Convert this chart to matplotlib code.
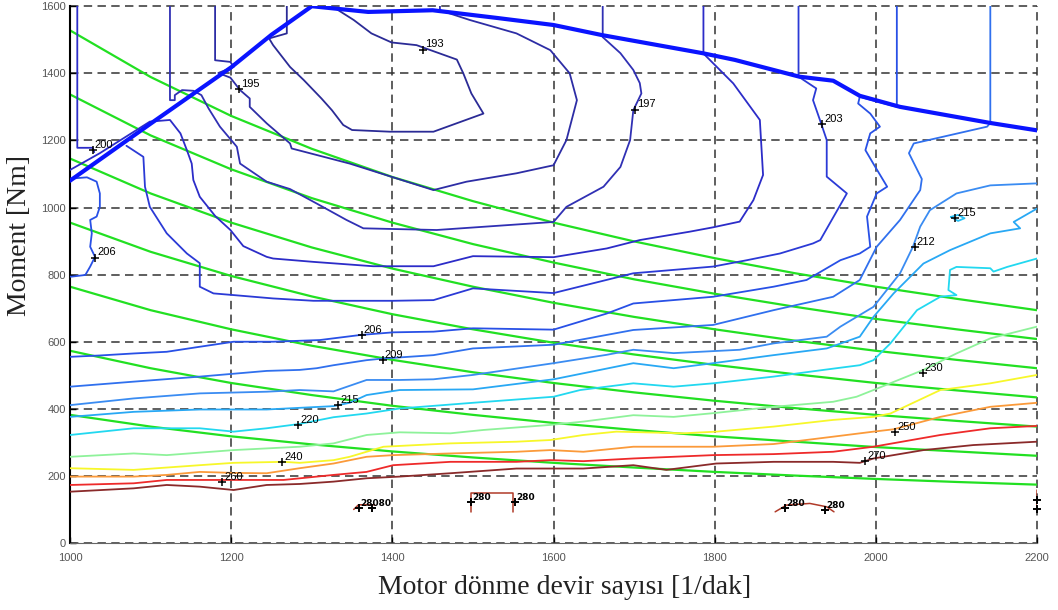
import matplotlib.pyplot as plt

# Engine speed [1/min] vs. torque [Nm]; each list is one iso-consumption line [g/kWh]
full_load = [(1000, 1080), (1100, 1250), (1200, 1418), (1250, 1515), (1300, 1600), (1370, 1583),
             (1450, 1588), (1530, 1565), (1600, 1544), (1660, 1514), (1785, 1460), (1825, 1440),
             (1905, 1390), (1947, 1378), (1980, 1333), (2030, 1300), (2142, 1252), (2200, 1230)]

c193 = [(1269, 1600), (1269, 1519), (1247, 1504), (1252, 1484), (1273, 1419), (1290, 1380),
        (1312, 1325), (1325, 1290), (1339, 1246), (1350, 1231), (1397, 1226), (1451, 1226),
        (1513, 1280), (1498, 1340), (1488, 1400), (1480, 1441), (1430, 1484), (1399, 1492),
        (1374, 1519), (1352, 1559), (1329, 1594)]

c195 = [(1180, 1600), (1180, 1439), (1199, 1434), (1203, 1419), (1184, 1401), (1199, 1387),
        (1211, 1350), (1223, 1325), (1223, 1300), (1244, 1251), (1273, 1191), (1275, 1176),
        (1347, 1131), (1451, 1052), (1492, 1077), (1554, 1102), (1600, 1126), (1616, 1201),
        (1629, 1320), (1620, 1400), (1596, 1469), (1554, 1519), (1496, 1559), (1459, 1588),
        (1459, 1600)]

c197 = [(1124, 1600), (1124, 1320), (1130, 1320), (1130, 1335), (1139, 1350), (1153, 1348),
        (1163, 1335), (1172, 1295), (1186, 1241), (1207, 1181), (1211, 1131), (1244, 1077),
        (1273, 1055), (1306, 1012), (1343, 963), (1364, 938), (1455, 933), (1600, 957),
        (1616, 1002), (1662, 1062), (1683, 1121), (1695, 1201), (1699, 1290), (1709, 1340),
        (1707, 1371), (1699, 1410), (1683, 1460), (1661, 1508), (1661, 1600)]

c200_left = [(1009, 1600), (1009, 1178), (1028, 1178), (1030, 1165)]

c200 = [(1000, 1112), (1037, 1162), (1099, 1256), (1124, 1261), (1137, 1221), (1145, 1171),
        (1151, 1131), (1153, 1082), (1161, 1032), (1180, 975), (1199, 933), (1215, 885),
        (1244, 853), (1252, 848), (1302, 838), (1376, 825), (1451, 825), (1500, 855),
        (1600, 852), (1666, 878), (1707, 903), (1769, 928), (1798, 941), (1831, 958),
        (1848, 1022), (1860, 1097), (1856, 1261), (1823, 1370), (1786, 1459), (1786, 1600)]

c203 = [(1070, 1184), (1091, 1151), (1093, 1062), (1099, 1002), (1120, 923), (1145, 863),
        (1161, 834), (1161, 764), (1178, 744), (1203, 739), (1252, 729), (1302, 722),
        (1401, 722), (1451, 724), (1500, 759), (1600, 745), (1699, 804), (1798, 824),
        (1840, 843), (1881, 863), (1922, 893), (1931, 903), (1964, 1042), (1939, 1092),
        (1939, 1132), (1939, 1201), (1932, 1251), (1922, 1320), (1926, 1355), (1904, 1390),
        (1904, 1600)]

c206_left = [(1000, 1086), (1021, 1090), (1033, 1077), (1037, 1042), (1037, 1002), (1033, 973),
             (1025, 963), (1027, 923), (1025, 883), (1031, 853), (1025, 824), (1019, 799),
             (1002, 794), (1000, 794)]

c206 = [(1000, 555), (1037, 559), (1079, 565), (1120, 570), (1161, 585), (1203, 600),
        (1252, 600), (1310, 605), (1360, 620), (1401, 628), (1451, 630), (1500, 640),
        (1600, 636), (1666, 684), (1699, 714), (1798, 734), (1873, 764), (1914, 784),
        (1956, 843), (1980, 863), (1993, 883), (1989, 973), (2001, 1042), (2014, 1062),
        (1997, 1130), (1987, 1171), (1993, 1221), (2005, 1241), (1993, 1280), (1978, 1310),
        (1980, 1330), (2026, 1300), (2026, 1600)]

c209 = [(1000, 466), (1079, 481), (1161, 496), (1244, 513), (1285, 516), (1306, 521),
        (1327, 530), (1368, 545), (1389, 550), (1451, 560), (1500, 580), (1600, 591),
        (1699, 635), (1798, 650), (1873, 694), (1947, 734), (1980, 784), (2001, 883),
        (2030, 963), (2055, 1052), (2057, 1085), (2041, 1162), (2047, 1191), (2138, 1241),
        (2142, 1252), (2142, 1600)]

c212 = [(1000, 411), (1079, 431), (1161, 446), (1244, 451), (1285, 456), (1327, 452),
        (1368, 486), (1409, 486), (1451, 488), (1500, 501), (1600, 536), (1666, 561),
        (1699, 576), (1749, 566), (1831, 576), (1873, 595), (1939, 615), (1956, 645),
        (1997, 704), (2030, 804), (2046, 883), (2055, 943), (2067, 992), (2100, 1042),
        (2142, 1066), (2200, 1072)]

c215 = [(1000, 376), (1079, 391), (1161, 398), (1244, 398), (1327, 408), (1347, 418),
        (1368, 441), (1409, 456), (1500, 458), (1600, 488), (1699, 536), (1749, 521),
        (1798, 536), (1873, 560), (1939, 580), (1980, 615), (1997, 674), (2022, 744),
        (2059, 833), (2092, 873), (2142, 923), (2179, 938), (2171, 957), (2200, 997)]

c215_island = [(2093, 972), (2102, 960), (2110, 968), (2102, 978), (2093, 972)]

c220 = [(1000, 322), (1079, 342), (1161, 342), (1203, 332), (1244, 342), (1285, 355),
        (1327, 375), (1368, 386), (1409, 401), (1500, 418), (1600, 436), (1633, 456),
        (1699, 476), (1749, 466), (1798, 476), (1873, 496), (1935, 516), (1980, 530),
        (1997, 545), (2018, 595), (2051, 694), (2080, 734), (2100, 739), (2090, 754),
        (2092, 814), (2100, 823), (2142, 819), (2146, 809), (2163, 823), (2200, 848)]

c230 = [(1000, 257), (1079, 267), (1120, 262), (1203, 277), (1285, 287), (1327, 297),
        (1368, 322), (1409, 330), (1472, 327), (1513, 337), (1596, 352), (1637, 362),
        (1699, 381), (1749, 376), (1798, 387), (1873, 406), (1947, 421), (1976, 436),
        (1997, 456), (2059, 516), (2100, 565), (2142, 610), (2200, 645)]

c240 = [(1000, 223), (1079, 218), (1161, 232), (1203, 239), (1265, 242), (1285, 239),
        (1327, 247), (1347, 257), (1389, 287), (1472, 297), (1554, 302), (1596, 307),
        (1637, 322), (1678, 332), (1761, 327), (1802, 332), (1873, 347), (1947, 367),
        (1997, 376), (2018, 386), (2080, 456), (2142, 476), (2200, 501)]

c250 = [(1000, 198), (1079, 198), (1120, 203), (1161, 212), (1203, 209), (1244, 208),
        (1285, 223), (1327, 237), (1368, 257), (1401, 262), (1472, 267), (1554, 272),
        (1596, 277), (1637, 272), (1699, 287), (1798, 287), (1873, 295), (1947, 317),
        (1997, 332), (2022, 339), (2080, 376), (2142, 406), (2200, 418)]

c260 = [(1000, 173), (1079, 178), (1120, 188), (1203, 188), (1265, 188), (1327, 203),
        (1368, 212), (1401, 232), (1472, 242), (1554, 242), (1596, 247), (1637, 244),
        (1699, 252), (1798, 262), (1873, 265), (1947, 272), (1997, 287), (2080, 322),
        (2142, 342), (2200, 349)]

c270 = [(1000, 153), (1079, 163), (1120, 173), (1161, 168), (1203, 158), (1244, 173),
        (1285, 176), (1327, 183), (1368, 193), (1409, 198), (1472, 208), (1554, 222),
        (1596, 222), (1637, 222), (1699, 232), (1740, 218), (1802, 237), (1873, 242),
        (1947, 242), (1980, 239), (1997, 252), (2059, 277), (2121, 292), (2200, 302)]

c280_a = [(1352, 100), (1358, 114), (1378, 114)]
c280_b = [(1498, 93), (1498, 148), (1550, 148), (1550, 93)]
c280_c = [(1875, 93), (1889, 113), (1918, 118), (1939, 108), (1948, 93)]
c280_d = [(2200, 158), (2200, 110)]

# constant-power lines, torque at each speed
green_rpm = [1000, 1100, 1200, 1300, 1400, 1500, 1600, 1700, 1800, 1900, 2000, 2100, 2200]
green_160 = [1528, 1389, 1273, 1175, 1091, 1019, 955, 899, 849, 804, 764, 728, 694]
green_140 = [1337, 1215, 1114, 1028, 955, 891, 836, 786, 743, 704, 668, 637, 608]
green_120 = [1146, 1042, 955, 881, 818, 764, 716, 674, 637, 603, 573, 546, 521]
green_100 = [955, 868, 796, 735, 682, 637, 597, 562, 531, 503, 477, 455, 434]
green_80 = [764, 694, 637, 588, 546, 509, 477, 449, 424, 402, 382, 364, 347]
green_60 = [573, 521, 477, 441, 409, 382, 358, 337, 318, 302, 286, 273, 260]
green_40 = [382, 347, 318, 294, 273, 255, 239, 225, 212, 201, 191, 182, 174]

# contour label anchor points
label_rpm = [1438, 1210, 1701, 1028, 1933, 1031, 1362, 1388, 2048, 2098, 1333, 1283,
             2058, 1263, 2024, 1189, 1987]
label_nm = [1471, 1352, 1292, 1171, 1249, 851, 620, 545, 883, 968, 411, 352,
            508, 242, 332, 183, 245]
label_txt = ['193', '195', '197', '200', '203', '206', '206', '209', '212', '215', '215',
             '220', '230', '240', '250', '260', '270']

# crowded 280 marks near the bottom of the map
small_rpm = [1358, 1375, 1498, 1552, 1887, 1937]
small_nm = [104, 104, 123, 123, 103, 98]
small_txt_rpm = [1358, 1498, 1552, 1887, 1937]
small_txt_nm = [104, 123, 123, 103, 98]
small_txt = ['28080', '280', '280', '280', '280']
edge_nm = [128, 100]

x_ticks = [1000, 1200, 1400, 1600, 1800, 2000, 2200]
y_ticks = [0, 200, 400, 600, 800, 1000, 1200, 1400, 1600]

fig = plt.figure(figsize=(10.58, 6.10), dpi=100)
ax = fig.add_axes([0.0662, 0.1098, 0.914, 0.880])


def draw(pts, color, lw=1.3, z=3):
    ax.plot([p[0] for p in pts], [p[1] for p in pts], color=color, lw=lw,
            solid_joinstyle='round', solid_capstyle='round', zorder=z)


green = '#22e022'
for g in [green_160, green_140, green_120, green_100, green_80, green_60, green_40]:
    ax.plot(green_rpm, g, color=green, lw=1.6, zorder=2)

draw(c193, '#2b2b96')
draw(c195, '#2d2da5')
draw(c197, '#3030b4')
draw(c200_left, '#2c2cc8')
draw(c200, '#2c2cc8')
draw(c203, '#2b3ad6')
draw(c206_left, '#2850e6')
draw(c206, '#2850e6')
draw(c209, '#3070ee')
draw(c212, '#3a8cf2')
draw(c215, '#28a8f4')
draw(c215_island, '#28c0f4')
draw(c220, '#22d8f0')
draw(c230, '#8ef29a')
draw(c240, '#f7f72a')
draw(c250, '#fb9a3a')
draw(c260, '#ee2a2a')
draw(c270, '#8a2a2a')
for seg in [c280_a, c280_b, c280_c, c280_d]:
    draw(seg, '#b03a28', lw=1.1)

draw(full_load, '#0a14ff', lw=3.0, z=4)

# label crosses and values
ax.plot(label_rpm, label_nm, '+', color='black', ms=6, mew=1.1, zorder=5)
for x, y, t in zip(label_rpm, label_nm, label_txt):
    ax.annotate(t, (x, y), xytext=(1.5, 1.5), textcoords='offset points',
                fontsize=8, family='Liberation Sans', color='black', zorder=6)

ax.plot(small_rpm, small_nm, '+', color='black', ms=6, mew=1.4, zorder=5)
ax.plot([2200] * len(edge_nm), edge_nm, '+', color='black', ms=6, mew=1.4, zorder=5,
        clip_on=False)
for x, y, t in zip(small_txt_rpm, small_txt_nm, small_txt):
    ax.annotate(t, (x, y), xytext=(1, 1.5), textcoords='offset points',
                fontsize=6.5, fontweight='heavy', family='DejaVu Sans',
                color='black', zorder=6)

ax.set_xlim(1000, 2200)
ax.set_ylim(0, 1600)
ax.set_xticks(x_ticks)
ax.set_yticks(y_ticks)
ax.tick_params(direction='in', length=4, width=1, colors='black', labelcolor='#555555',
               labelsize=8)
ax.tick_params(axis='x', pad=7)
ax.tick_params(axis='y', pad=3)
for lab in ax.get_xticklabels() + ax.get_yticklabels():
    lab.set_family('Liberation Sans')

ax.grid(True, color='#333333', lw=1.1, linestyle=(0, (5.5, 3.5)))
for line in ax.get_xgridlines() + ax.get_ygridlines():
    line.set_clip_on(False)
ax.set_axisbelow(True)

for side in ['top', 'right']:
    ax.spines[side].set_visible(False)
ax.spines['left'].set_linewidth(1.5)
ax.spines['left'].set_color('black')
ax.spines['bottom'].set_linewidth(0.8)
ax.spines['bottom'].set_color('#666666')

fig.text(20 / 1058, 1 - 235 / 610, 'Moment [Nm]', rotation=90, ha='center', va='center',
         fontsize=20, family='Liberation Serif', color='#222222')
fig.text(565 / 1058, 1 - 587 / 610, 'Motor dönme devir sayısı [1/dak]', ha='center',
         va='center', fontsize=20, family='Liberation Serif', color='#222222')

fig.savefig('out.png', dpi=100)
